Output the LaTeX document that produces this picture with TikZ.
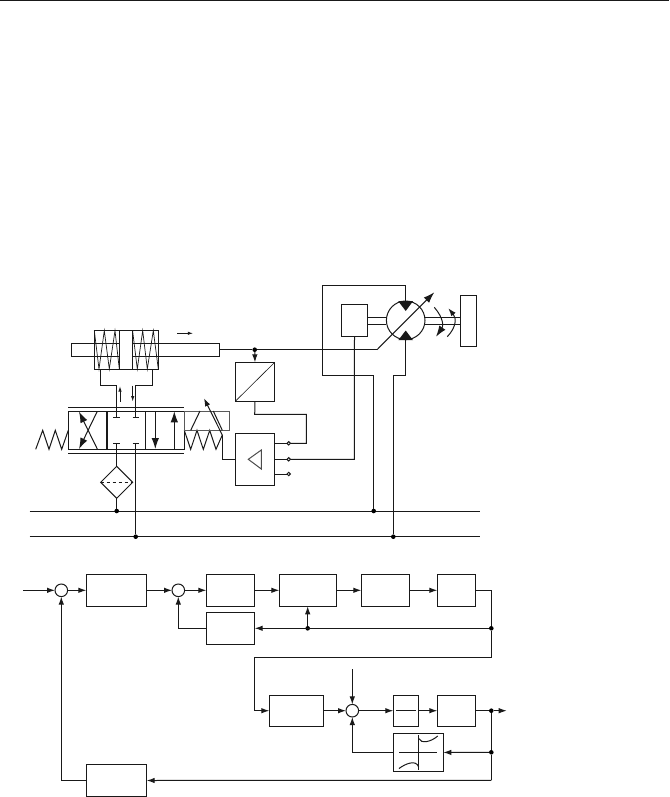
\documentclass[tikz,border=0pt]{standalone}
\usetikzlibrary{positioning,arrows.meta,shapes.geometric,calc}
\tikzset{
	line/.style={line width=1pt, black!90},
	flow/.style={line, -{Latex[length=8pt,width=5.5pt]}},
	thinflow/.style={line, -{Latex[length=5.5pt,width=3.4pt]}},
	bigflow/.style={line, -{Latex[length=11pt,width=7.5pt]}},
	block/.style={draw, line, rectangle, inner sep=0pt, outer sep=0pt},
	rowblock/.style={block, minimum height=32pt},
	junction/.style={draw, line, circle, fill=white, inner sep=0pt, outer sep=0pt, minimum size=12.6pt},
	dot/.style={circle, fill=black, inner sep=0pt, outer sep=0pt, minimum size=4.6pt},
	terminal/.style={draw, line, circle, fill=white, inner sep=0pt, outer sep=0pt, minimum size=3.4pt},
}

\begin{document}
\begin{tikzpicture}[x=1pt, y=-1pt]
	\useasboundingbox (0,0) rectangle (669,797);
	\coordinate (ruleL) at (0,0.6);
	\coordinate (ruleR) at (669,0.6);
	\draw[line] (ruleL) -- (ruleR);

	\coordinate (busAL) at (29.7,511);
	\coordinate (busAR) at (480,511);
	\coordinate (busBL) at (29.7,536.7);
	\coordinate (busBR) at (480,536.7);
	\draw[line] (busAL) -- (busAR);
	\draw[line] (busBL) -- (busBR);

	\node[block, minimum width=64pt, minimum height=39pt] (cylinder) at (126.3,349.8) {};
	\draw[line] (119.3,330.3) -- (119.3,369.3);
	\draw[line] (132.3,330.3) -- (132.3,369.3);
	\draw[line] (119.3,343.3) -| (71.3,356.3) -- (119.3,356.3);
	\draw[line] (132.3,343.3) -| (219.3,356.3) -- (132.3,356.3);
	\draw[line, line width=0.7pt] (94.3,330.6) -- (99,369) -- (104.3,330.6) -- (109.3,369) -- (115,330.6) -- (119.3,369);
	\draw[line, line width=0.7pt] (132.6,330.6) -- (137.3,369) -- (142.7,330.6) -- (147.3,369) -- (153.3,330.6) -- (158.3,369);
	\draw[thinflow] (177.3,333.3) -- (193.3,333.3);

	\node[block, minimum width=116pt, minimum height=38.3pt] (valve) at (126.3,430.2) {};
	\draw[line, line width=1.6pt] (106.7,411) -- (106.7,449.3);
	\draw[line] (145.7,411) -- (145.7,449.3);
	\draw[line] (68.3,407.3) -- (184.3,407.3);
	\draw[line] (68.3,453.3) -- (184.3,453.3);
	\draw[bigflow] (97.3,449) -- (79,411.7);
	\draw[bigflow] (97.3,411.3) -- (79,449);
	\draw[bigflow] (155.3,411) -- (155.3,449);
	\draw[bigflow] (174.3,449.3) -- (174.3,411.3);

	\draw[line] (100.3,369.3) |- (116.7,385.3) -- (116.7,417.7);
	\draw[line] (152.3,369.3) |- (135.7,385.3) -- (135.7,417.7);
	\draw[line] (113.3,417.7) -- (120,417.7);
	\draw[line] (132.7,417.7) -- (139.3,417.7);
	\draw[line] (113.3,443.7) -- (120,443.7);
	\draw[line] (132.7,443.7) -- (139.3,443.7);
	\draw[thinflow] (120,401.7) -- (120,386);
	\draw[thinflow] (132.7,385.5) -- (132.7,401.7);

	\draw[line] (68.3,430.3) -- (61.7,449.3) -- (55.3,430.3) -- (49,449.3) -- (42.7,430.3) -- (35.7,449.3);
	\draw[line] (184.3,430.3) -- (190.7,449.3) -- (197,430.3) -- (203.3,449.3) -- (209.7,430.3) -- (216,449.3) -- (222.3,435);
	\node[block, draw=black!65, line width=1.1pt, minimum width=45pt, minimum height=19.3pt] (solenoid) at (206.8,420.7) {};
	\draw[line] (190.7,430.3) -- (200,411);
	\draw[line] (213.3,411) -- (222.3,430.3);
	\draw[flow] (222.3,435) -- (204,398.3);

	\node[draw, line, diamond, aspect=1, inner sep=0pt, outer sep=0pt, minimum size=32pt] (filter) at (116.7,482.3) {};
	\draw[line, dashed] (filter.west) -- (filter.east);
	\node[dot] (busAfilter) at (116.7,511) {};
	\node[dot] (busBvalve) at (135.7,536.7) {};
	\draw[line] (116.7,443.7) -- (filter.north);
	\draw[line] (filter.south) -- (busAfilter);
	\draw[line] (135.7,443.7) -- (busBvalve);

	\node[block, minimum width=39.4pt, minimum height=39pt] (converter) at (255,381.8) {};
	\draw[line, line width=0.6pt] (converter.south west) -- (converter.north east);
	\node[dot] (sensor) at (254.7,349.7) {};
	\node[block, minimum width=39pt, minimum height=52pt] (amplifier) at (254.8,459.3) {};
	\draw[line, draw=black!70] (261.3,450) -- (261.3,469) -- (248.3,459.3) -- cycle;
	\node[terminal] (termA) at (288.7,443.3) {};
	\node[terminal] (termB) at (288.7,459.3) {};
	\node[terminal] (termC) at (288.7,474) {};
	\draw[line] (274.3,443.3) -- (termA);
	\draw[line] (274.3,459.3) -- (termB);
	\draw[line] (274.3,474) -- (termC);
	\draw[line] (termA) -- (306.3,443.3) -- (306.3,414.3) -- (254.7,414.3) -- (converter.south);
	\draw[line] (222.3,435) |- (amplifier.west);
	\draw[flow] (sensor) -- (converter.north);

	\node[draw, line, circle, inner sep=0pt, outer sep=0pt, minimum size=38.6pt] (motor) at (405.7,320.3) {};
	\node[block, minimum width=26.4pt, minimum height=32.4pt] (servo) at (354.5,320.5) {};
	\node[block, minimum width=16.4pt, minimum height=51pt] (load) at (468.5,320.8) {};
	\draw[line] (367.7,317.3) -- (386.4,317.3);
	\draw[line] (367.7,324.3) -- (386.4,324.3);
	\draw[line] (425,317.3) -- (460.3,317.3);
	\draw[line] (425,324.3) -- (460.3,324.3);
	\fill[black!90] (398.3,301.2) -- (413,301.2) -- (405.7,311) -- cycle;
	\fill[black!90] (398.3,340.2) -- (413,340.2) -- (405.7,330.5) -- cycle;

	\node[dot] (busAcase) at (373.7,511) {};
	\node[dot] (busBcase) at (393.3,536.7) {};
	\draw[line] (motor.north) -- (405.7,285.3) -- (322.3,285.3) -- (322.3,375.3) -- (373.7,375.3) -- (busAcase);
	\draw[line] (motor.south) -- (405.7,375.3) -- (393.3,375.3) -- (busBcase);
	\draw[line] (servo.south) -- (354.3,459.3) -- (termB);
	\draw[line] (219.3,349.7) -- (sensor) -- (377,349.7);
	\draw[bigflow] (377,349.7) -- (434.3,292.3);
	\draw[bigflow] (434.3,307.3) .. controls (443.5,318) and (443.5,326) .. (436,336.7);
	\draw[flow] (447.3,336.7) .. controls (456.5,327) and (456.5,318) .. (448.3,308.3);

	\node[junction] (sumA) at (61.3,590.3) {};
	\node[rowblock, minimum width=60.4pt, right=18.7pt of sumA] (ctrlA) {};
	\node[junction, right=25.3pt of ctrlA] (sumB) {};
	\node[rowblock, minimum width=48.4pt, right=21.7pt of sumB] (ctrlB) {};
	\node[rowblock, minimum width=48.4pt, below=6pt of ctrlB] (fbB) {};
	\node[rowblock, minimum width=57pt, right=24.6pt of ctrlB] (valveblk) {};
	\node[rowblock, minimum width=48pt, right=25pt of valveblk] (areablk) {};
	\node[rowblock, minimum width=38pt, right=28pt of areablk] (gainblk) {};

	\coordinate (input) at (23,590.3);
	\coordinate (cornerA) at (491.3,590.3);
	\node[dot] (tapA) at (491.3,628.3) {};
	\node[dot] (tapB) at (307.7,628.3) {};
	\coordinate (cornerB) at (491.3,657.3);
	\coordinate (cornerC) at (254.3,657.3);

	\draw[flow] (input) -- (sumA);
	\draw[flow] (sumA) -- (ctrlA);
	\draw[flow] (ctrlA) -- (sumB);
	\draw[flow] (sumB) -- (ctrlB);
	\draw[flow] (ctrlB) -- (valveblk);
	\draw[flow] (valveblk) -- (areablk);
	\draw[flow] (areablk) -- (gainblk);
	\draw[flow] (fbB) -| (sumB);
	\draw[flow] (tapB) -- (valveblk.south -| tapB);
	\draw[flow] (tapA) -- (fbB);

	\node[rowblock, minimum width=54pt, minimum height=31pt] (motorblk) at (296.3,710.7) {};
	\node[junction, right=22.7pt of motorblk] (sumC) {};
	\node[rowblock, minimum width=25.4pt, minimum height=31pt, right=34.7pt of sumC] (fracblk) {};
	\draw[line] ([xshift=2.7pt]fracblk.west) -- ([xshift=-2.7pt]fracblk.east);
	\node[rowblock, minimum width=38pt, minimum height=31pt, right=18.6pt of fracblk] (plantblk) {};
	\node[block, minimum width=50pt, minimum height=38.4pt] (nonlin) at (418.3,752.5) {};
	\node[rowblock, minimum width=60.4pt] (sensblk) at (116.5,780.5) {};

	\draw[line] (399.3,752.3) -- (437.3,752.3);
	\draw[line] (418.7,735) -- (418.7,770);
	\draw[line] (418.7,738.5) .. controls (421,744) and (431,742) .. (437.7,736);
	\draw[line] (399,768.5) .. controls (405,764) and (416,759) .. (418.7,767);

	\coordinate (disturb) at (352.3,669.3);
	\coordinate (output) at (506.7,710.7);
	\node[dot] (tapC) at (491.3,710.7) {};
	\node[dot] (tapD) at (491.3,752.3) {};
	\coordinate (cornerD) at (491.3,780.4);

	\draw[line] (gainblk) -- (cornerA) -- (tapA) -- (cornerB) -- (cornerC);
	\draw[flow] (cornerC) |- (motorblk);
	\draw[flow] (motorblk) -- (sumC);
	\draw[flow] (disturb) -- (sumC);
	\draw[flow] (sumC) -- (fracblk);
	\draw[flow] (fracblk) -- (plantblk);
	\draw[line] (plantblk) -- (tapC);
	\draw[flow] (tapC) -- (output);
	\draw[line] (tapC) -- (tapD) -- (cornerD);
	\draw[flow] (tapD) -- (nonlin);
	\draw[flow] (nonlin) -| (sumC);
	\draw[flow] (cornerD) -- (sensblk);
	\draw[flow] (sensblk) -| (sumA);
\end{tikzpicture}
\end{document}
